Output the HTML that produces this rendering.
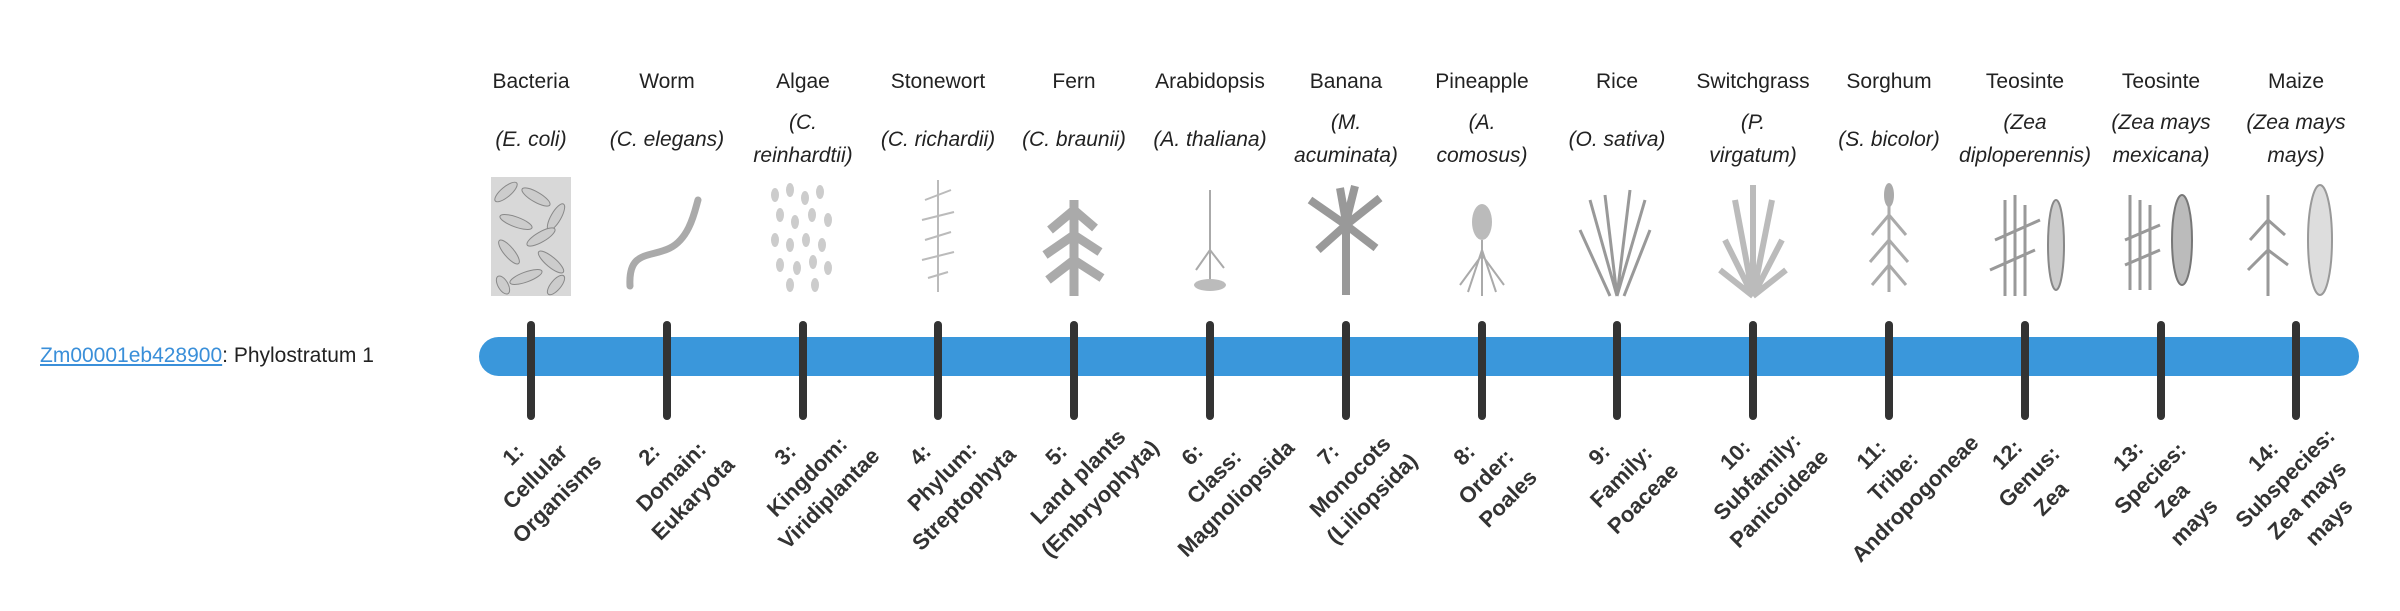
<!DOCTYPE html>
<html><head><meta charset="utf-8"><style>
body{margin:0;width:2400px;height:580px;background:#fff;position:relative;overflow:hidden;font-family:"Liberation Sans",sans-serif;color:#222}
.a{position:absolute}
.n{width:150px;text-align:center;font-size:21px;line-height:28px;top:68px}
.s{width:150px;text-align:center;font-size:21px;line-height:33px;font-style:italic}
.b{width:220px;text-align:center;font-size:22px;line-height:31px;font-weight:bold;transform:rotate(-45deg);color:#333}
.t{width:8px;height:99px;top:321px;background:#333;border-radius:4px}
</style></head><body>
<div class="a" style="left:40px;top:342px;font-size:21px;line-height:28px;white-space:nowrap"><span style="color:#3a8fd9;text-decoration:underline">Zm00001eb428900</span>: Phylostratum 1</div>
<div class="a" style="left:479px;top:337px;width:1880px;height:39px;background:#3a97db;border-radius:20px"></div>

<div class="a t" style="left:527px"></div><div class="a t" style="left:663px"></div><div class="a t" style="left:799px"></div><div class="a t" style="left:934px"></div><div class="a t" style="left:1070px"></div><div class="a t" style="left:1206px"></div><div class="a t" style="left:1342px"></div><div class="a t" style="left:1478px"></div><div class="a t" style="left:1613px"></div><div class="a t" style="left:1749px"></div><div class="a t" style="left:1885px"></div><div class="a t" style="left:2021px"></div><div class="a t" style="left:2157px"></div><div class="a t" style="left:2292px"></div>

<div class="a n" style="left:456px">Bacteria</div>
<div class="a n" style="left:592px">Worm</div>
<div class="a n" style="left:728px">Algae</div>
<div class="a n" style="left:863px">Stonewort</div>
<div class="a n" style="left:999px">Fern</div>
<div class="a n" style="left:1135px">Arabidopsis</div>
<div class="a n" style="left:1271px">Banana</div>
<div class="a n" style="left:1407px">Pineapple</div>
<div class="a n" style="left:1542px">Rice</div>
<div class="a n" style="left:1678px">Switchgrass</div>
<div class="a n" style="left:1814px">Sorghum</div>
<div class="a n" style="left:1950px">Teosinte</div>
<div class="a n" style="left:2086px">Teosinte</div>
<div class="a n" style="left:2221px">Maize</div>

<div class="a s" style="left:456px;top:123px">(E. coli)</div>
<div class="a s" style="left:592px;top:123px">(C. elegans)</div>
<div class="a s" style="left:728px;top:106px">(C.<br>reinhardtii)</div>
<div class="a s" style="left:863px;top:123px">(C. richardii)</div>
<div class="a s" style="left:999px;top:123px">(C. braunii)</div>
<div class="a s" style="left:1135px;top:123px">(A. thaliana)</div>
<div class="a s" style="left:1271px;top:106px">(M.<br>acuminata)</div>
<div class="a s" style="left:1407px;top:106px">(A.<br>comosus)</div>
<div class="a s" style="left:1542px;top:123px">(O. sativa)</div>
<div class="a s" style="left:1678px;top:106px">(P.<br>virgatum)</div>
<div class="a s" style="left:1814px;top:123px">(S. bicolor)</div>
<div class="a s" style="left:1950px;top:106px">(Zea<br>diploperennis)</div>
<div class="a s" style="left:2086px;top:106px">(Zea mays<br>mexicana)</div>
<div class="a s" style="left:2221px;top:106px">(Zea mays<br>mays)</div>

<svg class="a" style="left:0;top:0" width="2400" height="320" fill="none" stroke="#999" stroke-width="2">
<g fill="#ccc" stroke="#888" stroke-width="1">
<rect x="491" y="177" width="80" height="119" fill="#d8d8d8" stroke="none"/>
<g transform="translate(491,177)"><ellipse cx="15" cy="15" rx="14" ry="5" transform="rotate(-40 15 15)"/><ellipse cx="45" cy="20" rx="16" ry="5" transform="rotate(30 45 20)"/><ellipse cx="65" cy="40" rx="15" ry="5" transform="rotate(-60 65 40)"/><ellipse cx="25" cy="45" rx="17" ry="5" transform="rotate(20 25 45)"/><ellipse cx="50" cy="60" rx="16" ry="5" transform="rotate(-30 50 60)"/><ellipse cx="18" cy="75" rx="15" ry="5" transform="rotate(50 18 75)"/><ellipse cx="60" cy="85" rx="16" ry="5" transform="rotate(40 60 85)"/><ellipse cx="35" cy="100" rx="17" ry="5" transform="rotate(-20 35 100)"/><ellipse cx="65" cy="108" rx="12" ry="5" transform="rotate(-50 65 108)"/><ellipse cx="12" cy="108" rx="10" ry="5" transform="rotate(60 12 108)"/></g>
</g>
<path d="M630 286 C628 250,650 258,670 248 C690 238,695 210,698 200" stroke="#aaa" stroke-width="7" stroke-linecap="round"/>
<g fill="#ccc" stroke="none"><ellipse cx="775" cy="195" rx="4" ry="7"/><ellipse cx="790" cy="190" rx="4" ry="7"/><ellipse cx="805" cy="198" rx="4" ry="7"/><ellipse cx="820" cy="192" rx="4" ry="7"/><ellipse cx="780" cy="215" rx="4" ry="7"/><ellipse cx="795" cy="222" rx="4" ry="7"/><ellipse cx="812" cy="215" rx="4" ry="7"/><ellipse cx="828" cy="220" rx="4" ry="7"/><ellipse cx="775" cy="240" rx="4" ry="7"/><ellipse cx="790" cy="245" rx="4" ry="7"/><ellipse cx="806" cy="240" rx="4" ry="7"/><ellipse cx="822" cy="245" rx="4" ry="7"/><ellipse cx="780" cy="265" rx="4" ry="7"/><ellipse cx="797" cy="268" rx="4" ry="7"/><ellipse cx="813" cy="262" rx="4" ry="7"/><ellipse cx="828" cy="268" rx="4" ry="7"/><ellipse cx="790" cy="285" rx="4" ry="7"/><ellipse cx="815" cy="285" rx="4" ry="7"/></g>
<path d="M938 180 V292 M925 200 L951 190 M922 220 L954 212 M925 240 L951 232 M922 260 L954 252 M928 278 L948 272" stroke="#bbb"/>
<path d="M1074 296 V200 M1074 210 L1050 230 M1074 210 L1095 228 M1074 235 L1045 255 M1074 235 L1100 252 M1074 260 L1048 280 M1074 260 L1102 278" stroke="#aaa" stroke-width="9"/>
<path d="M1210 290 V190 M1210 250 L1196 270 M1210 250 L1224 268" stroke="#aaa"/><ellipse cx="1210" cy="285" rx="16" ry="6" fill="#bbb" stroke="none"/>
<path d="M1346 295 V220 M1346 225 L1310 200 M1346 225 L1380 198 M1346 225 L1318 250 M1346 225 L1376 248 M1346 222 L1340 188 M1346 222 L1355 186" stroke="#999" stroke-width="8"/>
<ellipse cx="1482" cy="222" rx="10" ry="18" fill="#bbb" stroke="none"/><path d="M1482 240 V296 M1482 255 L1460 285 M1482 255 L1504 285 M1482 250 L1468 292 M1482 250 L1496 292" stroke="#aaa"/>
<path d="M1617 296 L1590 200 M1617 296 L1605 195 M1617 296 L1630 190 M1617 296 L1645 200 M1610 296 L1580 230 M1624 296 L1650 230" stroke="#999" stroke-width="3"/>
<path d="M1753 296 L1735 200 M1753 296 L1753 185 M1753 296 L1772 200 M1753 296 L1725 240 M1753 296 L1782 240 M1753 296 L1720 270 M1753 296 L1786 270" stroke="#bbb" stroke-width="6"/>
<ellipse cx="1889" cy="195" rx="5" ry="12" fill="#aaa" stroke="none"/><path d="M1889 205 V292 M1889 215 L1872 235 M1889 215 L1906 235 M1889 240 L1870 262 M1889 240 L1908 262 M1889 265 L1872 285 M1889 265 L1906 285" stroke="#aaa" stroke-width="3"/>
<path d="M2005 296 V200 M2015 296 V195 M2025 296 V205 M1995 240 L2040 220 M1990 270 L2035 250" stroke="#999" stroke-width="3"/><ellipse cx="2056" cy="245" rx="8" ry="45" fill="#ccc" stroke="#888"/>
<path d="M2130 290 V195 M2140 290 V200 M2150 290 V205 M2125 240 L2160 225 M2125 265 L2160 250" stroke="#999" stroke-width="3"/><ellipse cx="2182" cy="240" rx="10" ry="45" fill="#bbb" stroke="#777"/>
<path d="M2268 296 V195 M2268 220 L2250 240 M2268 220 L2285 235 M2268 250 L2248 270 M2268 250 L2288 265" stroke="#999" stroke-width="3"/><ellipse cx="2320" cy="240" rx="12" ry="55" fill="#ddd" stroke="#999"/>
</svg>

<div class="a b" style="left:425px;top:430px">1:<br>Cellular<br>Organisms</div>
<div class="a b" style="left:561px;top:430px">2:<br>Domain:<br>Eukaryota</div>
<div class="a b" style="left:697px;top:430px">3:<br>Kingdom:<br>Viridiplantae</div>
<div class="a b" style="left:832px;top:430px">4:<br>Phylum:<br>Streptophyta</div>
<div class="a b" style="left:968px;top:430px">5:<br>Land plants<br>(Embryophyta)</div>
<div class="a b" style="left:1104px;top:430px">6:<br>Class:<br>Magnoliopsida</div>
<div class="a b" style="left:1240px;top:430px">7:<br>Monocots<br>(Liliopsida)</div>
<div class="a b" style="left:1376px;top:430px">8:<br>Order:<br>Poales</div>
<div class="a b" style="left:1511px;top:430px">9:<br>Family:<br>Poaceae</div>
<div class="a b" style="left:1647px;top:430px">10:<br>Subfamily:<br>Panicoideae</div>
<div class="a b" style="left:1783px;top:430px">11:<br>Tribe:<br>Andropogoneae</div>
<div class="a b" style="left:1919px;top:430px">12:<br>Genus:<br>Zea</div>
<div class="a b" style="left:2051px;top:427px">13:<br>Species:<br>Zea<br>mays</div>
<div class="a b" style="left:2186px;top:427px">14:<br>Subspecies:<br>Zea mays<br>mays</div>
</body></html>
